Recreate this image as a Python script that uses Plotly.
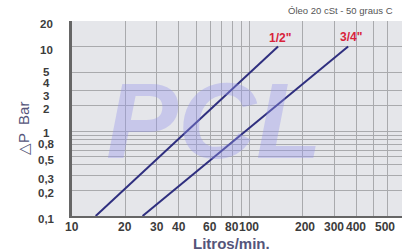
import math
import plotly.graph_objects as go

# Data
half_q = [13.6, 145]
half_dp = [0.1, 10]
threeq_q = [25, 360]
threeq_dp = [0.1, 10]

x_gridvals = [10, 20, 30, 40, 50, 60, 70, 80, 90, 100, 200, 300, 400, 500, 600]
x_label_vals = [10, 20, 30, 40, 60, 80, 100, 200, 300, 400, 500]
x_label_text = ["10", "20", "30", "40", "60", "80", "100", "200", "300", "400", "500"]
y_gridvals = [0.1, 0.2, 0.3, 0.4, 0.5, 0.6, 0.7, 0.8, 0.9, 1, 2, 3, 5, 10]
y_label_vals = [0.1, 0.2, 0.3, 0.5, 0.8, 1, 2, 3, 4, 5, 10, 20]
y_label_text = ["0,1", "0,2", "0,3", "0,5", "0,8", "1", "2", "3", "4", "5", "10", "20"]

LINE = "#2f2f7f"
RED = "#d8233a"
GRID = "#a9aaad"
TICK = "#3c3c3c"

W, H = 418, 251
L, R, T, B = 72, 16, 21, 35
pw, ph = W - L - R, H - T - B

fig = go.Figure()
fig.add_trace(go.Scatter(x=half_q, y=half_dp, mode="lines",
                         line=dict(color=LINE, width=2), showlegend=False))
fig.add_trace(go.Scatter(x=threeq_q, y=threeq_dp, mode="lines",
                         line=dict(color=LINE, width=2), showlegend=False))

fig.update_layout(
    width=W, height=H,
    margin=dict(l=L, r=R, t=T, b=B),
    paper_bgcolor="white",
    plot_bgcolor="#e5e6ea",
    font=dict(family="Liberation Sans, Arial, sans-serif", color="#444444"),
)
fig.update_xaxes(type="log", range=[1, 2.86], tickvals=x_gridvals, showticklabels=False,
                 showgrid=True, gridcolor=GRID, gridwidth=1,
                 showline=True, linecolor="#666666", linewidth=2,
                 ticks="", zeroline=False)
fig.update_yaxes(type="log", range=[-1, 1.3015], tickvals=y_gridvals,
                 showticklabels=False,
                 showgrid=True, gridcolor=GRID, gridwidth=1,
                 showline=True, linecolor="#666666", linewidth=3,
                 ticks="", zeroline=False)

# x tick labels (the reference nudges the last one right)
xshifts = {200: 2, 500: 12}
for v, t in zip(x_label_vals, x_label_text):
    fig.add_annotation(text=t, xref="x", yref="paper", x=math.log10(v), y=0,
                       showarrow=False, xanchor="center", yanchor="top", yshift=-3,
                       xshift=xshifts.get(v, 0),
                       borderpad=0, font=dict(size=12, weight="bold", color=TICK))

# y tick labels (slightly below the gridlines, as in the reference)
yshifts = {5: 0, 4: -3, 3: -5, 1: -2, 0.8: -5}
for v, t in zip(y_label_vals, y_label_text):
    fig.add_annotation(text=t, xref="paper", yref="y", x=(46 - L) / pw,
                       y=min(math.log10(v), 1.3015),
                       showarrow=False, xanchor="center", yanchor="middle",
                       yshift=yshifts.get(v, -3), borderpad=0,
                       font=dict(size=11.5, weight="bold", color=TICK))

# watermark
fig.add_annotation(text="PCL", xref="paper", yref="paper", x=0.43, y=0.49,
                   showarrow=False, xanchor="center", yanchor="middle",
                   font=dict(size=108, weight="bold", style="italic",
                             color="rgba(150,150,235,0.38)",
                             family="Liberation Sans, Arial, sans-serif"))

fig.add_annotation(text="1/2\"", x=2.172, y=1.10, xref="x", yref="y", showarrow=False,
                   font=dict(size=12, weight="bold", color=RED))
fig.add_annotation(text="3/4\"", x=2.573, y=1.11, xref="x", yref="y", showarrow=False,
                   font=dict(size=12, weight="bold", color=RED))

def px_ann(text, px, py, **kw):
    fig.add_annotation(text=text, xref="paper", yref="paper",
                       x=(px - L) / pw, y=(H - B - py) / ph, showarrow=False, **kw)

px_ann("Óleo 20 cSt - 50 graus C", 395, 11, xanchor="right", yanchor="middle",
       font=dict(size=9.5, color="#555555"))
px_ann("Litros/min.", 231, 243, xanchor="center", yanchor="middle",
       font=dict(size=15, weight="bold", color="#55557a"))
px_ann("△P  Bar", 23, 128, xanchor="center", yanchor="middle", textangle=-90,
       font=dict(size=15, color="#55557a"))

fig.write_html("out.html")
